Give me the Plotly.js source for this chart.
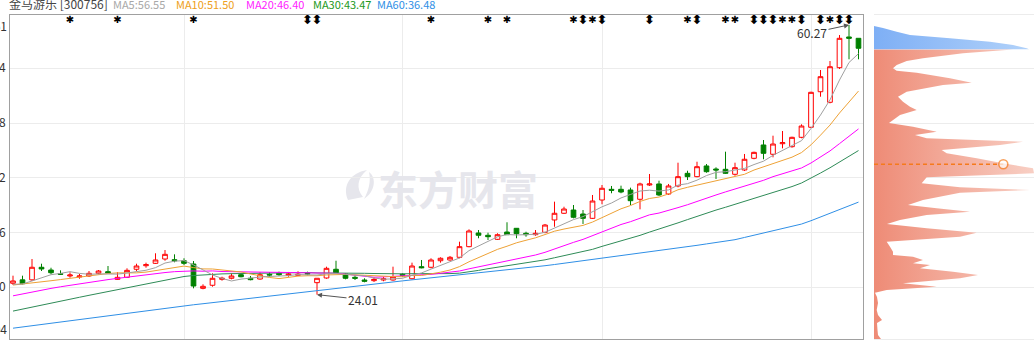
<!DOCTYPE html>
<html><head><meta charset="utf-8">
<script src="https://cdn.plot.ly/plotly-3.0.1.min.js"></script>
<style>html,body{margin:0;padding:0;background:#fff;overflow:hidden}#chart{width:1034px;height:342px}</style>
</head><body><div id="chart"></div>
<script>
// ---- candle data (trading-day index 0..89) ----
const openP  = [25.54,26.00,26.00,27.69,27.32,26.83,26.52,26.38,26.52,26.88,27.10,26.07,26.34,27.42,27.90,28.22,28.80,28.71,28.57,28.13,
24.86,25.27,26.07,26.21,26.69,26.21,26.11,26.75,26.88,26.61,26.61,26.88,25.62,26.25,27.42,26.79,26.34,25.98,25.89,25.98,
25.98,26.75,26.15,27.77,27.69,28.57,28.67,29.03,30.46,32.30,31.99,31.45,32.43,32.93,32.26,32.07,32.39,34.05,34.95,35.39,
34.85,34.27,36.73,38.17,38.17,38.08,36.83,38.75,38.89,37.54,38.62,40.32,39.87,41.31,40.90,40.86,40.19,40.77,42.34,44.13,
42.88,44.30,43.90,45.16,46.51,51.29,49.87,54.52,58.65,58.47];
const highP  = [26.56,26.56,28.80,28.17,27.63,27.28,27.02,26.79,27.19,27.32,27.86,27.02,27.55,28.17,28.31,29.57,30.01,29.43,28.90,28.53,
25.40,26.88,26.42,26.88,26.88,26.52,27.02,27.02,27.10,27.06,27.15,27.10,26.21,27.77,28.57,26.88,26.65,26.21,26.34,26.42,
27.77,26.88,28.31,28.67,28.90,29.03,29.21,31.13,32.79,32.70,32.34,32.26,33.74,32.97,32.47,32.70,33.51,36.51,35.83,36.06,
35.39,37.41,38.75,38.62,38.66,38.39,39.06,40.23,39.33,38.89,41.75,40.67,41.88,41.57,41.13,43.23,41.75,42.92,43.23,44.80,
45.38,46.01,45.24,46.91,51.29,54.21,55.42,58.91,60.27,58.47];
const lowP   = [25.31,25.40,25.85,27.19,26.75,26.65,26.29,26.15,26.38,26.75,26.83,26.02,26.25,27.19,27.63,28.13,28.57,28.36,28.00,24.86,
24.73,25.08,25.89,26.07,26.34,25.94,26.02,26.42,26.52,26.42,26.52,26.61,24.01,26.15,26.88,26.07,25.98,25.67,25.71,25.81,
25.89,26.42,26.07,27.55,27.55,28.31,28.57,28.90,30.38,31.59,31.36,31.36,32.03,31.59,31.80,31.93,32.26,33.14,34.85,34.27,
33.51,34.18,36.16,37.64,37.64,36.06,35.48,38.62,37.27,37.41,38.44,39.42,39.79,40.40,39.56,40.23,40.00,40.63,42.21,42.21,
42.47,43.68,43.77,45.03,46.41,50.62,49.73,54.34,55.65,55.65];
const closeP = [25.85,25.48,27.69,27.46,26.96,26.75,26.65,26.52,26.88,27.19,26.92,26.34,27.28,27.86,28.04,28.67,29.43,28.57,28.22,25.17,
25.13,26.21,26.21,26.52,26.42,26.02,26.69,26.65,26.69,26.79,26.75,26.79,26.21,27.55,26.96,26.21,26.21,25.81,26.07,26.15,
26.42,26.61,27.86,27.63,28.67,28.90,29.03,30.46,32.57,31.99,31.80,32.07,32.07,32.20,32.07,32.26,33.37,34.95,35.52,34.41,
34.27,36.60,38.31,38.04,37.81,36.64,38.89,38.89,37.41,38.62,39.87,39.87,41.21,40.54,40.77,40.32,41.08,42.21,43.14,43.01,
44.26,44.44,45.16,46.68,51.21,53.31,54.65,58.47,58.47,57.13];

// ---- moving averages ----
const ma5  = [25.40,25.44,25.85,26.29,26.69,26.87,27.10,26.87,26.75,26.80,26.83,26.77,26.92,27.12,27.29,27.64,28.26,28.51,28.59,28.01,
27.30,26.66,26.19,25.85,26.10,26.28,26.37,26.46,26.49,26.57,26.71,26.73,26.65,26.82,26.85,26.74,26.63,26.55,26.25,26.09,
26.13,26.21,26.62,26.93,27.44,27.93,28.42,28.94,29.93,30.59,31.17,31.78,32.10,32.03,32.04,32.13,32.39,32.97,33.63,34.10,
34.50,35.15,35.82,36.33,37.01,37.48,37.94,38.05,37.93,38.09,38.74,38.93,39.40,40.02,40.45,40.54,40.78,40.98,41.50,41.95,
42.74,43.41,44.00,44.71,46.35,48.16,50.20,52.86,55.22,56.41];
const ma10 = [25.30,25.42,25.56,25.72,25.88,26.04,26.20,26.36,26.52,26.74,26.85,26.94,26.90,26.94,27.04,27.24,27.51,27.72,27.85,27.65,
27.47,27.46,27.35,27.22,27.06,26.79,26.52,26.32,26.17,26.33,26.50,26.55,26.55,26.66,26.71,26.73,26.68,26.60,26.54,26.47,
26.44,26.42,26.59,26.59,26.76,27.03,27.32,27.78,28.43,29.01,29.55,30.10,30.52,30.98,31.32,31.65,32.09,32.54,32.83,33.07,
33.32,33.77,34.40,34.98,35.55,35.99,36.54,36.94,37.13,37.55,38.11,38.44,38.73,38.98,39.27,39.64,39.86,40.19,40.76,41.20,
41.64,42.10,42.49,43.11,44.15,45.45,46.81,48.43,49.97,51.38];
const ma20 = [23.85,24.12,24.38,24.62,24.85,25.07,25.28,25.48,25.67,25.85,26.03,26.20,26.37,26.53,26.68,26.83,26.98,27.10,27.18,27.20,
27.16,27.20,27.12,27.08,27.05,27.01,27.01,27.02,27.01,26.99,26.98,27.01,26.95,26.94,26.88,26.76,26.60,26.46,26.35,26.40,
26.47,26.49,26.57,26.62,26.74,26.88,27.00,27.19,27.48,27.74,28.00,28.26,28.55,28.78,29.04,29.34,29.70,30.16,30.63,31.04,
31.44,31.94,32.46,32.98,33.44,33.82,34.32,34.74,34.98,35.31,35.71,36.10,36.56,36.98,37.41,37.82,38.20,38.56,38.95,39.38,
39.87,40.27,40.61,41.04,41.71,42.54,43.33,44.31,45.36,46.29];
const ma30 = [21.80,22.08,22.35,22.62,22.88,23.14,23.40,23.66,23.92,24.18,24.44,24.70,24.96,25.22,25.48,25.74,26.00,26.25,26.45,26.58,
26.68,26.75,26.80,26.83,26.86,26.88,26.89,26.90,26.90,26.91,26.94,26.98,26.93,26.94,26.94,26.92,26.90,26.88,26.85,26.82,
26.80,26.81,26.83,26.82,26.84,26.85,26.84,26.90,27.05,27.27,27.50,27.69,27.89,28.08,28.26,28.47,28.69,28.97,29.27,29.52,
29.77,30.10,30.50,30.85,31.21,31.56,31.98,32.42,32.80,33.21,33.66,34.10,34.55,34.98,35.38,35.76,36.16,36.55,36.91,37.27,
37.69,38.10,38.54,39.02,39.66,40.36,41.07,41.85,42.62,43.38];
const ma60 = [19.50,19.67,19.83,20.00,20.17,20.33,20.50,20.67,20.83,21.00,21.17,21.33,21.50,21.67,21.83,22.00,22.17,22.33,22.50,22.65,
22.79,22.94,23.09,23.24,23.38,23.53,23.68,23.82,23.97,24.12,24.26,24.41,24.56,24.71,24.85,25.00,25.14,25.29,25.43,25.57,
25.71,25.86,26.00,26.13,26.25,26.38,26.50,26.64,26.78,26.92,27.06,27.20,27.34,27.48,27.62,27.76,27.90,28.06,28.23,28.39,
28.55,28.72,28.88,29.05,29.21,29.37,29.54,29.70,29.89,30.08,30.27,30.46,30.64,30.83,31.02,31.21,31.40,31.70,32.00,32.30,
32.60,32.90,33.20,33.50,33.95,34.45,34.95,35.45,35.95,36.45];

// ---- event markers along the top ----
const markIdx = [6,11,19,31,32,44,50,52,59,60,61,62,67,71,72,75,76,78,79,80,81,82,83,85,86,87,88];
const markSym = ['*','*','*','⬍','⬍','*','*','*','*','⬍','*','⬍','⬍','*','⬍','*','*','⬍','⬍','⬍','*','*','⬍','⬍','*','⬍','⬍'];

// ---- month boundary days (vertical grid) ----
const monthStart = [18,41,62,84];

// ---- y-axis ticks ----
const yTickVals = [25.00,32.36,39.72,47.08,54.44];
const yTickText = ['25.00','32.36','39.72','47.08','54.44'];
const yTop = '61.61', yBottom = '18.04';

// ---- chip distribution (price level, volume) ----
const chipBluePrice = [60.13,59.86,59.36,58.91,58.47,58.01,57.57,57.13,56.99];
const chipBlueVol   = [0,9,22.7,36,76,116,139,152.7,155];
const chipRedPrice = [56.97,56.45,55.78,55.42,54.88,54.44,54.12,53.85,53.09,52.50,52.19,51.29,50.62,49.95,49.28,48.83,48.16,47.09,46.59,45.92,
45.47,45.03,44.57,44.13,43.46,43.01,42.34,41.67,40.99,40.32,39.79,38.98,38.44,38.08,37.72,36.73,36.06,35.62,35.16,34.72,
34.05,33.51,32.93,32.34,31.80,31.13,30.46,29.78,29.34,29.11,28.67,28.22,28.00,27.55,27.10,26.65,26.21,25.54,25.08,24.64,
24.27,23.69,22.89,21.95,21.27,20.60,20.20,19.26,18.59,18.05];
const chipRedVol = [139,89,49,32.7,22.7,19,22.7,42.7,76,97.7,69,32.7,24,29,36,42.7,26,15,39,62.7,
41,52.7,149,126,67.7,72.7,102.7,129,159,160,52.7,47.7,86,156,86,49,34,62.7,96,52.7,
26,13,52.7,102.7,86,12.7,16,19,19,39,49,39,56,46,79,104,86,29,62.7,12.7,
1,3,4,2.7,4,8,3,3.5,4,7];
const avgCostPrice = 41.53, avgCostVol = 129.3;

const lastHigh = {i:88, v:60.27}, lastLow = {i:32, v:24.01};

const idx = closeP.map((_, i) => i);
const yRange = [18.048, 61.604];

const traces = [
  {type:'candlestick', x:idx, open:openP, high:highP, low:lowP, close:closeP,
   increasing:{line:{color:'#ff0000',width:1}, fillcolor:'#ffffff'},
   decreasing:{line:{color:'#008000',width:1}, fillcolor:'#008000'},
   whiskerwidth:0, hoverinfo:'none', xaxis:'x', yaxis:'y'},
  {type:'scatter', mode:'lines', x:idx, y:ma60, line:{color:'#2f8fe6',width:1}, hoverinfo:'none'},
  {type:'scatter', mode:'lines', x:idx, y:ma30, line:{color:'#2e8b57',width:1}, hoverinfo:'none'},
  {type:'scatter', mode:'lines', x:idx, y:ma20, line:{color:'#ff00ff',width:1}, hoverinfo:'none'},
  {type:'scatter', mode:'lines', x:idx, y:ma10, line:{color:'#eea236',width:1}, hoverinfo:'none'},
  {type:'scatter', mode:'lines', x:idx, y:ma5,  line:{color:'#a0a0a0',width:1}, hoverinfo:'none'},
  {type:'scatter', mode:'text', x:markIdx, y:markIdx.map(() => 0.983),
   text:markSym.map(s => s === '*' ? '✱' : '⬍'), textposition:'middle center',
   textfont:{family:'DejaVu Sans', size:markSym.map(s => s === '*' ? 10 : 13), color:'#000', weight:700},
   yaxis:'y3', hoverinfo:'none'},
  {type:'scatter', mode:'none', x:chipRedVol, y:chipRedPrice, fill:'tozerox',
   fillgradient:{type:'horizontal', colorscale:[[0,'#ee8b76'],[1,'#f8cfc4']], start:0, stop:160},
   xaxis:'x2', yaxis:'y2', hoverinfo:'none'},
  {type:'scatter', mode:'none', x:chipBlueVol, y:chipBluePrice, fill:'tozerox',
   fillgradient:{type:'horizontal', colorscale:[[0,'#7eaff5'],[1,'#b3d3fa']], start:0, stop:160},
   xaxis:'x2', yaxis:'y2', hoverinfo:'none'},
  {type:'scatter', mode:'lines+markers', x:[0, avgCostVol], y:[avgCostPrice, avgCostPrice],
   line:{color:'#f57a1c', width:1.6, dash:'4px,3px'},
   marker:{size:[0,9], color:'#ffffff', line:{color:'#f57a1c', width:1.6}},
   xaxis:'x2', yaxis:'y2', hoverinfo:'none'}
];

const px = (x) => (x - 10) / 1024, py = (y) => (339 - y) / 324;
const logoPath = 'M ' + px(348) + ',' + py(200) + ' C ' + px(342) + ',' + py(186) + ' ' + px(350) + ',' + py(173) + ' ' + px(367) + ',' + py(170) +
  ' C ' + px(357) + ',' + py(178) + ' ' + px(356) + ',' + py(189) + ' ' + px(363) + ',' + py(197) + ' Z' +
  ' M ' + px(369) + ',' + py(172) + ' C ' + px(377) + ',' + py(178) + ' ' + px(375) + ',' + py(192) + ' ' + px(364) + ',' + py(199) +
  ' C ' + px(369) + ',' + py(190) + ' ' + px(371) + ',' + py(181) + ' ' + px(369) + ',' + py(172) + ' Z';

const head = [
  {t:'金马游乐 [300756]', c:'#444444', x:9, s:12},
  {t:'MA5:56.55', c:'#a8a8a8', x:113, s:11},
  {t:'MA10:51.50', c:'#eea020', x:176, s:11},
  {t:'MA20:46.40', c:'#ff22ff', x:246, s:11},
  {t:'MA30:43.47', c:'#229922', x:313, s:11},
  {t:'MA60:36.48', c:'#2f8fe6', x:377, s:11}
];

const annotations = head.map(h => ({
  xref:'paper', yref:'paper', x:0, y:1, xanchor:'left', yanchor:'middle',
  xshift:h.x - 12, yshift:11.5, text:h.t, showarrow:false,
  font:{family:'Noto Sans CJK SC', size:h.s, color:h.c}
}));
annotations.push(
  {xref:'paper', yref:'paper', x:0, y:1, xanchor:'right', yanchor:'top', xshift:-1, text:yTop, showarrow:false,
   font:{family:'Noto Sans CJK SC', size:12, color:'#333'}},
  {xref:'paper', yref:'paper', x:0, y:0, xanchor:'right', yanchor:'bottom', xshift:-1, text:yBottom, showarrow:false,
   font:{family:'Noto Sans CJK SC', size:12, color:'#333'}},
  {xref:'x', yref:'y', x:lastHigh.i, y:lastHigh.v, text:lastHigh.v.toFixed(2), showarrow:true,
   arrowhead:2, arrowsize:1, arrowwidth:1, arrowcolor:'#555', ax:-37, ay:8,
   font:{family:'Noto Sans CJK SC', size:12, color:'#333'}},
  {xref:'x', yref:'y', x:lastLow.i, y:lastLow.v, text:lastLow.v.toFixed(2), showarrow:true,
   arrowhead:2, arrowsize:1, arrowwidth:1, arrowcolor:'#555', ax:46, ay:5,
   font:{family:'Noto Sans CJK SC', size:12, color:'#333'}},
  {xref:'paper', yref:'paper', x:px(458), y:py(188), xanchor:'center', yanchor:'middle', text:'东方财富', showarrow:false,
   font:{family:'Noto Sans CJK SC', size:40, color:'#e6e6ec', weight:700}}
);

const layout = {
  width:1034, height:342,
  margin:{l:10, r:0, t:15, b:3, pad:0},
  paper_bgcolor:'#ffffff', plot_bgcolor:'rgba(0,0,0,0)',
  showlegend:false, boxgap:0.3,
  font:{family:'Noto Sans CJK SC, sans-serif', size:12, color:'#333'},
  xaxis:{domain:[0, 853/1024], range:[-0.316, 89.474], rangeslider:{visible:false},
    tickvals:monthStart, showticklabels:false, ticks:'', showgrid:true, gridcolor:'#ececec',
    zeroline:false, showline:true, mirror:true, linecolor:'#a0a0a0', linewidth:1, fixedrange:true},
  yaxis:{domain:[0,1], range:yRange, tickvals:yTickVals, ticktext:yTickText,
    ticks:'outside', ticklen:1, tickcolor:'rgba(0,0,0,0)', showgrid:true, gridcolor:'#ececec',
    zeroline:false, showline:true, mirror:true, linecolor:'#a0a0a0', linewidth:1, automargin:false,
    tickfont:{family:'Noto Sans CJK SC', size:12, color:'#333'}, fixedrange:true},
  xaxis2:{domain:[864/1024, 1], range:[0,160], anchor:'y2', showticklabels:false, showgrid:false,
    zeroline:false, showline:true, mirror:true, linecolor:'#ececec', ticks:'', fixedrange:true},
  yaxis2:{domain:[0,1], range:yRange, anchor:'x2', tickvals:yTickVals, showticklabels:false, ticks:'',
    showgrid:true, gridcolor:'#ececec', zeroline:false, showline:false, fixedrange:true},
  yaxis3:{overlaying:'y', range:[0,1], visible:false, fixedrange:true},
  shapes:[{type:'path', xref:'paper', yref:'paper', path:logoPath, fillcolor:'#e6e6ec', line:{width:0}, layer:'below'}],
  annotations:annotations
};

Plotly.newPlot('chart', traces, layout, {displayModeBar:false, staticPlot:true});
</script>
</body></html>
